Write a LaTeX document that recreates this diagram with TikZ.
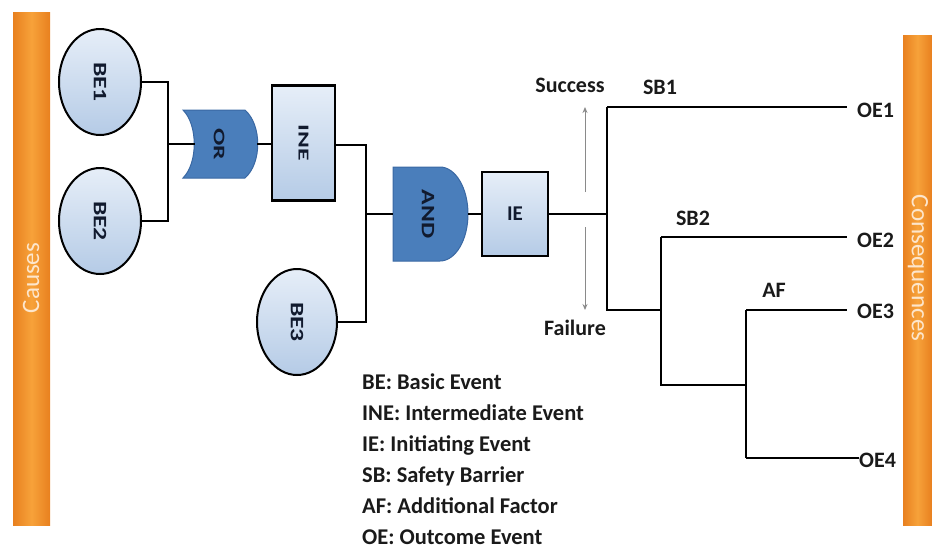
\documentclass[tikz,border=0pt]{standalone}
\usepackage{fontspec}
\setmainfont{Carlito}
\usetikzlibrary{shapes.geometric,arrows.meta}
\definecolor{barorange}{HTML}{F7A23A}
\definecolor{barorangeD}{HTML}{E8801F}
\definecolor{bartext}{HTML}{FDE6CC}
\definecolor{gateblue}{HTML}{4A7EBB}
\definecolor{gateedge}{HTML}{3A68A3}
\definecolor{lightA}{HTML}{E6EEF8}
\definecolor{lightB}{HTML}{B5CBE6}
\definecolor{txtdark}{HTML}{1A1A1A}
\definecolor{gatetxt}{HTML}{111A2E}
\definecolor{arrgray}{HTML}{8A8A8A}
\newcommand{\vtxt}[2][1]{\rotatebox{-90}{\scalebox{1.35}[#1]{#2}}}
\begin{document}
\begin{tikzpicture}[x=1pt,y=-1pt,
  wire/.style={line width=2.6pt,black},
  evt/.style={ellipse,draw=black,line width=2pt,top color=lightA,bottom color=lightB,
    minimum width=82pt,minimum height=106pt,inner sep=0pt,
    font=\fontsize{19}{19}\selectfont\bfseries,text=gatetxt},
  evbox/.style={rectangle,draw=black,line width=2.4pt,top color=lightA,bottom color=lightB,
    inner sep=0pt,font=\fontsize{19}{19}\selectfont\bfseries,text=gatetxt},
  gate/.style={fill=gateblue,draw=gateedge,line width=1pt},
  gtxt/.style={font=\fontsize{19}{19}\selectfont\bfseries,text=gatetxt,inner sep=0pt},
  lbl/.style={font=\fontsize{22}{22}\selectfont\bfseries,text=txtdark,inner sep=0pt,anchor=base},
  leg/.style={font=\fontsize{22.5}{22.5}\selectfont\bfseries,text=txtdark,inner sep=0pt,anchor=base west},
  bar/.style={rectangle,draw=none,left color=barorangeD,right color=barorangeD,middle color=barorange,inner sep=0pt},
  bartxt/.style={font=\fontsize{25}{25}\selectfont,text=bartext,inner sep=0pt},
  garrow/.style={draw=arrgray,line width=0.9pt,-{Stealth[length=6pt,width=5pt]}}
]
\useasboundingbox (0,0) rectangle (932,550);

% side bars
\node[bar,minimum width=37pt,minimum height=513pt] (causes) at (31.5,268.5) {};
\node[bartxt] (causestxt) at (31,278) {\rotatebox{90}{Causes}};
\node[bar,minimum width=29pt,minimum height=490pt] (conseq) at (917.5,280) {};
\node[bartxt] (conseqtxt) at (918,268) {\rotatebox{-90}{Consequences}};

% basic events
\node[evt] (be1) at (100,82) {\vtxt{BE1}};
\node[evt] (be2) at (100,221) {\vtxt{BE2}};
\node[evt,minimum width=80pt] (be3) at (297,322) {\vtxt{BE3}};

% OR gate
\path[gate] (183,110) -- (245,110) .. controls (262,125) and (262,163) .. (245,178)
  -- (183,178) .. controls (198,163) and (198,125) .. (183,110) -- cycle;
\coordinate (orin) at (195,144);
\coordinate (orout) at (257,144);
\node[gtxt] (ortxt) at (219,144) {\vtxt[0.85]{OR}};

% INE
\node[evbox,minimum width=63pt,minimum height=115pt] (ine) at (303.5,143) {\vtxt[0.8]{INE}};

% AND gate
\path[gate] (393,167) -- (440,167) arc[start angle=90,end angle=-90,x radius=28pt,y radius=47pt]
  -- (393,261) -- cycle;
\coordinate (andin) at (393,214);
\coordinate (andout) at (468,214);
\node[gtxt] (andtxt) at (428,214) {\vtxt{AND}};

% IE
\node[evbox,minimum width=66pt,minimum height=84pt,font=\fontsize{21}{21}\selectfont\bfseries] (ie) at (515,214) {IE};

% fault tree wires
\coordinate (j1) at (168,144);
\draw[wire] (be1.east) -| (j1);
\draw[wire] (be2.east) -| (j1);
\draw[wire] (j1) -- (orin);
\draw[wire] (orout) -- (ine.west |- orout);
\coordinate (j2) at (366,214);
\draw[wire] (ine.east |- 0,145) -| (j2);
\draw[wire] (be3.east) -| (j2);
\draw[wire] (j2) -- (andin);
\draw[wire] (andout) -- (ie.west);

% event tree
\coordinate (sb1t) at (607,107);
\coordinate (sb1b) at (607,310);
\coordinate (sb2t) at (661,237);
\coordinate (sb2b) at (661,385);
\coordinate (aft) at (746,310);
\coordinate (afb) at (746,458);
\draw[wire] (ie.east) -- (sb1t |- ie.east);
\draw[wire] (sb1t) -- (sb1b) -- (sb2t |- sb1b);
\draw[wire] (sb2t) -- (sb2b) -- (aft |- sb2b);
\draw[wire] (aft) -- (afb);

\node[lbl,anchor=base west] (oe1) at (857,117) {OE1};
\node[lbl,anchor=base west] (oe2) at (857,247) {OE2};
\node[lbl,anchor=base west] (oe3) at (857,318) {OE3};
\node[lbl,anchor=base west] (oe4) at (859,467) {OE4};
\draw[wire] (sb1t) -- (847,107) coordinate (e1);
\draw[wire] (sb2t) -- (847,237) coordinate (e2);
\draw[wire] (aft) -- (847,310) coordinate (e3);
\draw[wire] (afb) -- (oe4.west |- afb);

\node[lbl] (sb1) at (660,94) {SB1};
\node[lbl] (sb2) at (693,225) {SB2};
\node[lbl] (af) at (774,297) {AF};

\node[lbl] (succ) at (570,92) {Success};
\node[lbl] (fail) at (575,335) {Failure};
\coordinate (aup0) at (585,192);
\coordinate (aup1) at (585,107);
\coordinate (adn0) at (585,227);
\coordinate (adn1) at (585,310);
\draw[garrow] (aup0) -- (aup1);
\draw[garrow] (adn0) -- (adn1);

% legend
\node[leg] (l1) at (362,389) {BE: Basic Event};
\node[leg] (l2) at (362,420) {INE: Intermediate Event};
\node[leg] (l3) at (362,451) {IE: Initiating Event};
\node[leg] (l4) at (362,482) {SB: Safety Barrier};
\node[leg] (l5) at (362,513) {AF: Additional Factor};
\node[leg] (l6) at (362,544) {OE: Outcome Event};
\end{tikzpicture}
\end{document}
